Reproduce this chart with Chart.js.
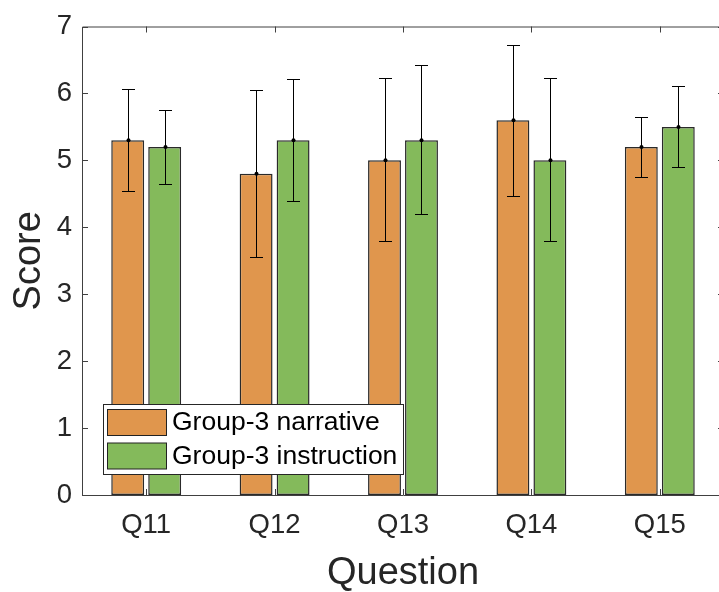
<!DOCTYPE html>
<html>
<head>
<meta charset="utf-8">
<script src="https://cdn.jsdelivr.net/npm/chart.js@4"></script>
<style>
  html, body { margin: 0; padding: 0; background: #fff; }
  #wrap { width: 719px; height: 592px; overflow: hidden; }
</style>
</head>
<body>
<div id="wrap"><canvas id="chart" width="730" height="592"></canvas></div>
<script>
// 資料
const categories = ['Q11', 'Q12', 'Q13', 'Q14', 'Q15'];
const narrative = [5.3, 4.8, 5.0, 5.6, 5.2];
const narrativeLow = [4.54, 3.55, 3.79, 4.47, 4.75];
const narrativeHigh = [6.07, 6.05, 6.23, 6.73, 5.65];
const instruction = [5.2, 5.3, 5.3, 5.0, 5.5];
const instructionLow = [4.64, 4.40, 4.20, 3.79, 4.90];
const instructionHigh = [5.75, 6.21, 6.42, 6.23, 6.11];
const yTicks = [0, 1, 2, 3, 4, 5, 6, 7];
const seriesNames = ['Group-3 narrative', 'Group-3 instruction'];
const seriesColors = ['#E0964D', '#84BA5B'];

const FONT = 'Helvetica, "Liberation Sans", Arial, sans-serif';
const INK = '#262626';

// 誤差線
const errorBars = {
  id: 'errorBars',
  afterDatasetsDraw(chart) {
    const ctx = chart.ctx;
    const y = chart.scales.y;
    const lows = [narrativeLow, instructionLow];
    const highs = [narrativeHigh, instructionHigh];
    ctx.save();
    ctx.strokeStyle = '#000';
    ctx.fillStyle = '#000';
    ctx.lineWidth = 1;
    chart.data.datasets.forEach((ds, i) => {
      chart.getDatasetMeta(i).data.forEach((bar, j) => {
        const x = Math.round(bar.x) + 0.5;
        const yl = Math.round(y.getPixelForValue(lows[i][j])) + 0.5;
        const yh = Math.round(y.getPixelForValue(highs[i][j])) + 0.5;
        ctx.beginPath();
        ctx.moveTo(x, yl); ctx.lineTo(x, yh);
        ctx.moveTo(x - 6.5, yl); ctx.lineTo(x + 6.5, yl);
        ctx.moveTo(x - 6.5, yh); ctx.lineTo(x + 6.5, yh);
        ctx.stroke();
        ctx.beginPath();
        ctx.arc(x, y.getPixelForValue(ds.data[j]), 2, 0, Math.PI * 2);
        ctx.fill();
      });
    });
    ctx.restore();
  }
};

// 外框、刻度與圖例
const boxAndLegend = {
  id: 'boxAndLegend',
  afterDraw(chart) {
    const ctx = chart.ctx;
    const a = chart.chartArea;
    const xs = chart.scales.x, ys = chart.scales.y;
    ctx.save();
    ctx.strokeStyle = '#404040';
    ctx.lineWidth = 1;
    ctx.beginPath();
    ctx.rect(a.left + 0.5, a.top + 0.5, a.right - a.left, a.bottom - a.top);
    yTicks.forEach(v => {
      const p = Math.round(ys.getPixelForValue(v)) + 0.5;
      ctx.moveTo(a.left, p); ctx.lineTo(a.left + 6, p);
      ctx.moveTo(a.right, p); ctx.lineTo(a.right - 6, p);
    });
    categories.forEach((c, i) => {
      const p = Math.round(xs.getPixelForValue(i)) + 0.5;
      ctx.moveTo(p, a.bottom); ctx.lineTo(p, a.bottom - 6);
      ctx.moveTo(p, a.top); ctx.lineTo(p, a.top + 6);
    });
    ctx.stroke();

    // 圖例
    const lx = 103, ly = 404, lw = 300, lh = 70;
    ctx.fillStyle = '#fff';
    ctx.fillRect(lx, ly, lw, lh);
    ctx.strokeStyle = '#262626';
    ctx.strokeRect(lx + 0.5, ly + 0.5, lw, lh);
    ctx.font = '26.5px ' + FONT;
    ctx.textBaseline = 'middle';
    seriesNames.forEach((name, i) => {
      const sy = ly + 5 + i * 33.5;
      ctx.fillStyle = seriesColors[i];
      ctx.fillRect(lx + 4.5, sy + 0.5, 59, 26);
      ctx.strokeStyle = '#222';
      ctx.strokeRect(lx + 4.5, sy + 0.5, 59, 26);
      ctx.fillStyle = '#000';
      ctx.fillText(name, lx + 69, sy + 14);
    });
    ctx.restore();
  }
};

new Chart(document.getElementById('chart'), {
  type: 'bar',
  data: {
    labels: categories,
    datasets: [
      { label: seriesNames[0], data: narrative, backgroundColor: seriesColors[0] },
      { label: seriesNames[1], data: instruction, backgroundColor: seriesColors[1] }
    ]
  },
  options: {
    responsive: false,
    animation: false,
    devicePixelRatio: 1,
    layout: { padding: { top: 20, right: 6, left: 0, bottom: 0 } },
    datasets: {
      bar: {
        categoryPercentage: 0.576,
        barPercentage: 0.89,
        borderColor: '#2a2a2a',
        borderWidth: 1.5,
        borderSkipped: false
      }
    },
    plugins: { legend: { display: false }, tooltip: { enabled: false } },
    scales: {
      x: {
        grid: { display: false, drawTicks: false },
        border: { display: false },
        ticks: { color: INK, font: { family: FONT, size: 27.5 }, padding: 14 },
        title: { display: true, text: 'Question', color: INK, font: { family: FONT, size: 38 }, padding: { top: 0, bottom: -4 } },
        afterFit(s) { s.height = 97; }
      },
      y: {
        min: 0, max: 7,
        afterBuildTicks(s) { s.ticks = yTicks.map(v => ({ value: v })); },
        grid: { display: false, drawTicks: false },
        border: { display: false },
        ticks: { color: INK, font: { family: FONT, size: 27.5 }, padding: 10 },
        title: { display: true, text: 'Score', color: INK, font: { family: FONT, size: 38 }, padding: { top: 7, bottom: 0 } },
        afterFit(s) { s.width = 82; }
      }
    }
  },
  plugins: [errorBars, boxAndLegend]
});
</script>
</body>
</html>
